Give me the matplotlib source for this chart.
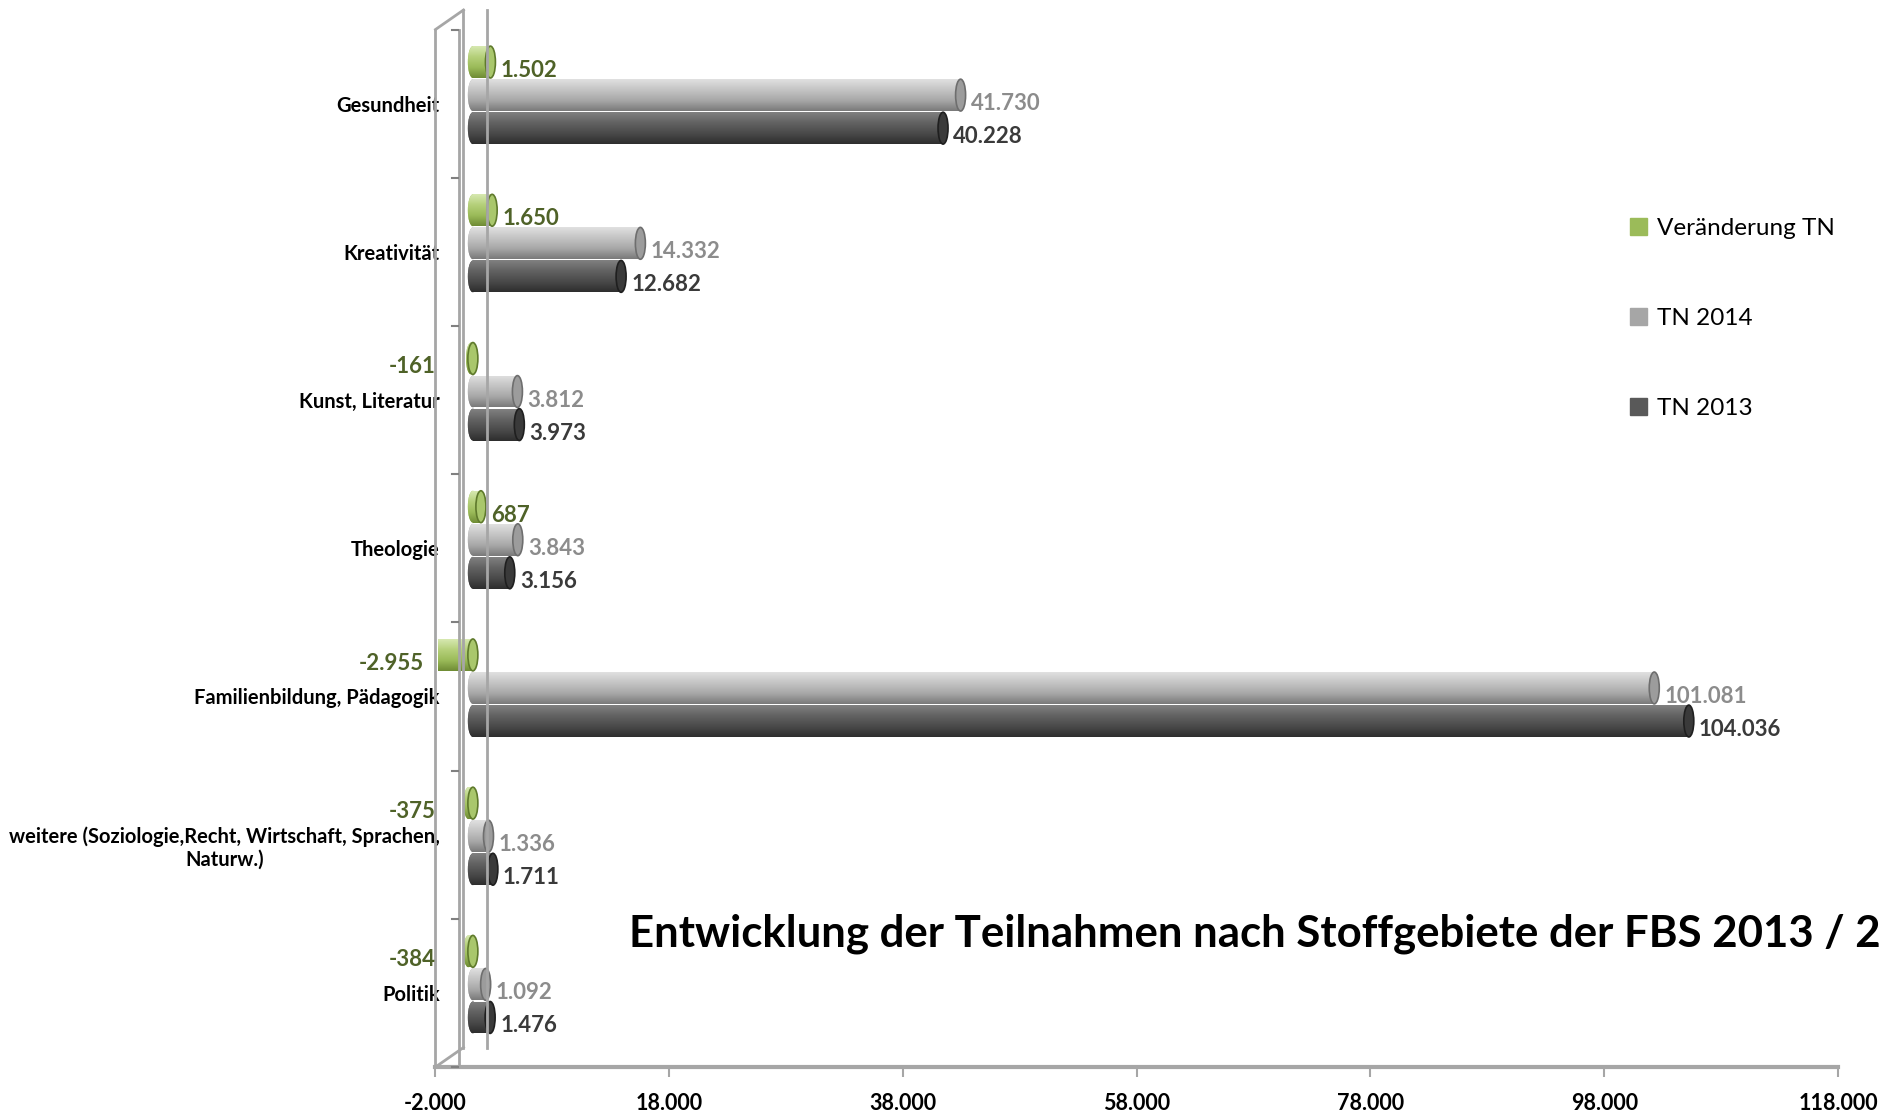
import numpy as np
import matplotlib.pyplot as plt
from matplotlib.patches import Ellipse, Patch
from matplotlib.lines import Line2D
from matplotlib.colors import LinearSegmentedColormap

# Daten (von oben nach unten)
categories = ["Gesundheit", "Kreativität", "Kunst, Literatur", "Theologie",
              "Familienbildung, Pädagogik",
              "weitere (Soziologie,Recht, Wirtschaft, Sprachen,\nNaturw.)",
              "Politik"]
change_tn = [1502, 1650, -161, 687, -2955, -375, -384]
tn_2014 = [41730, 14332, 3812, 3843, 101081, 1336, 1092]
tn_2013 = [40228, 12682, 3973, 3156, 104036, 1711, 1476]
series_names = ["Veränderung TN", "TN 2014", "TN 2013"]
xticks = [-2000, 18000, 38000, 58000, 78000, 98000, 118000]
title = "Entwicklung der Teilnahmen nach Stoffgebiete der FBS 2013 / 2014"

def fmt(v):
    return f"{v:,}".replace(",", ".")

plt.rcParams['font.family'] = ['Lato', 'DejaVu Sans']

W, H = 1881, 1112
fig = plt.figure(figsize=(W / 100, H / 100), dpi=100)

# Vorderebene (Achsen, Beschriftungen)
left, right = 435.5 / W, 1838 / W
bottom, top = 1 - 1067 / H, 1 - 29.5 / H
ax = fig.add_axes([left, bottom, right - left, top - bottom])
# Balkenebene, um die 3D-Tiefe verschoben
depth_x, depth_y = 14, 8.5
axb = fig.add_axes([left + depth_x / W, bottom + depth_y / H, right - left, top - bottom])

xlim = (xticks[0], xticks[-1])
n = len(categories)
y = np.arange(n)
axb.axis('off')
axb.patch.set_alpha(0)

# Zylinder-Optik
styles = [
    dict(cmap=["#d6e8b0", "#b5d07a", "#9bbb59", "#6f8c35"], face="#a9c76c", edge="#5f7a2c",
         label="#4f6228"),
    dict(cmap=["#e0e0e0", "#c4c4c4", "#a8a8a8", "#7a7a7a"], face="#9c9c9c", edge="#6e6e6e",
         label="#8c8c8c"),
    dict(cmap=["#808080", "#626262", "#4a4a4a", "#2e2e2e"], face="#3a3a3a", edge="#1f1f1f",
         label="#3a3a3a"),
]
offsets = [-0.223, 0.0, 0.223]
bar_h = 0.215
units_per_px = (xlim[1] - xlim[0]) / (W * (right - left))
cap_w = 10 * units_per_px
grad = np.linspace(0, 1, 64).reshape(-1, 1)

for vals, off, st in zip([change_tn, tn_2014, tn_2013], offsets, styles):
    cm = LinearSegmentedColormap.from_list("c", st["cmap"])
    bars = axb.barh(y + off, vals, height=bar_h, color=st["cmap"][2], linewidth=0)
    for bar, v in zip(bars, vals):
        yc = bar.get_y() + bar_h / 2
        x0, x1 = min(0, v), max(0, v)
        back = Ellipse((x0, yc), cap_w, bar_h, color=st["cmap"][2], linewidth=0)
        axb.add_patch(back)
        for clip in (bar, back):
            im = axb.imshow(grad, cmap=cm, aspect='auto', origin='upper',
                            extent=(x0 - cap_w, x1 + cap_w, yc + bar_h / 2, yc - bar_h / 2),
                            zorder=2)
            im.set_clip_path(clip)
        axb.add_patch(Ellipse((x1, yc), cap_w, bar_h, facecolor=st["face"],
                              edgecolor=st["edge"], linewidth=1.2, zorder=3))

    # Datenbeschriftungen in der Vorderebene
    for yi, v in zip(y, vals):
        if v >= 0:
            ax.annotate(fmt(v), (v, yi + off), xytext=(depth_x + 10, 0), textcoords='offset pixels',
                        ha='left', va='center', fontsize=16, fontweight='bold', color=st["label"],
                        annotation_clip=False)
        else:
            ax.annotate(fmt(v), (min(v, xlim[0]), yi + off), xytext=(0, 0),
                        textcoords='offset pixels', ha='right', va='center', fontsize=16,
                        fontweight='bold', color=st["label"], annotation_clip=False)

for a in (ax, axb):
    a.set_xlim(*xlim)
    a.set_ylim(n - 0.5, -0.5)

# Achsen
wall = "#a6a6a6"
for s in ["top", "right"]:
    ax.spines[s].set_visible(False)
ax.spines["bottom"].set_color(wall)
ax.spines["bottom"].set_linewidth(3)
ax.spines["left"].set_color(wall)
ax.spines["left"].set_linewidth(2)
ax.set_xticks(xticks, [fmt(t) for t in xticks], fontsize=15.5, fontweight='bold')
ax.tick_params(axis='x', length=7, width=1.5, color=wall, pad=12)
ax.set_yticks(y, categories, fontsize=14.5, fontweight='bold')
ax.tick_params(axis='y', length=0, pad=-3)
for lbl in ax.get_yticklabels():
    lbl.set_multialignment('center')
ax.patch.set_alpha(0)

# 3D-Wand: Linien in Pixeln relativ zu den Achsenecken
up = 19.5
x_l, y_b = ax.transAxes.transform((0, 0))
_, y_t = ax.transAxes.transform((0, 1))
wall_segments = [
    ([x_l + 24, x_l + 24], [y_b, y_t]),              # vordere Innenkante
    ([x_l + 28, x_l + 28], [y_b + up, y_t + up]),    # hintere Außenkante
    ([x_l + 52, x_l + 52], [y_b + up, y_t + up]),    # hintere Innenkante
    ([x_l, x_l + 28], [y_t, y_t + up]),              # Schräge oben
    ([x_l, x_l + 28], [y_b, y_b + up]),              # Schräge unten
]
for xs, ys in wall_segments:
    fig.add_artist(Line2D(xs, ys, color=wall, lw=2, transform=None))

# Kategoriegrenzen (kleine Striche an der Innenkante)
for b in np.arange(-0.5, n, 1.0):
    yb = ax.transData.transform((0, b))[1]
    fig.add_artist(Line2D([x_l + 17, x_l + 23], [yb, yb], color="#808080", lw=1.5,
                          transform=None))

# Legende
handles = [Patch(color=c) for c in ["#9bbb59", "#a6a6a6", "#595959"]]
fig.legend(handles, series_names, loc='upper left', bbox_to_anchor=(1608 / W, 1 - 196 / H),
           frameon=False, fontsize=17.5, labelspacing=2.85, handlelength=0.7,
           handleheight=0.7, handletextpad=0.4)

# Titel läuft wie im Original über den rechten Rand hinaus
fig.text(629 / W, 1 - 934 / H, title, fontsize=31.5, fontweight='bold', ha='left', va='center')

fig.savefig("out.png", dpi=100)
